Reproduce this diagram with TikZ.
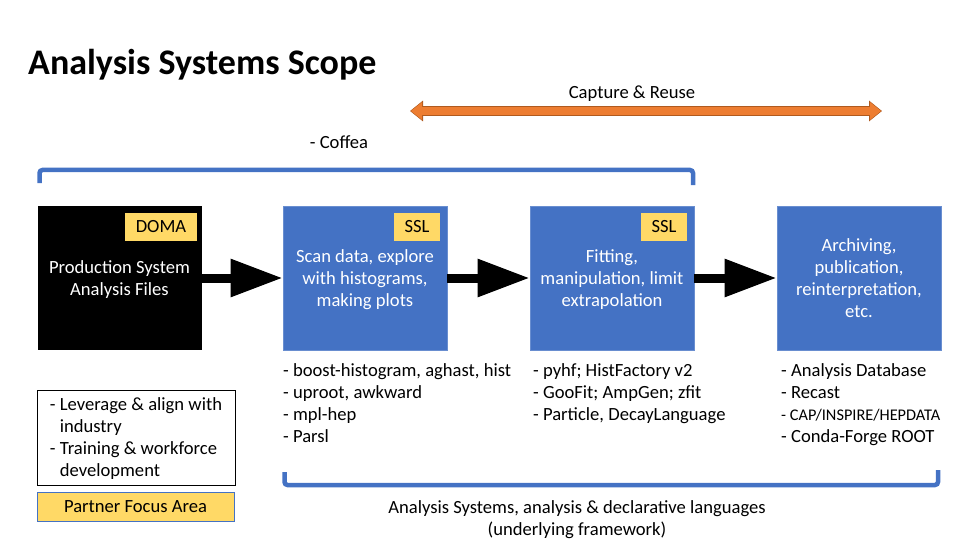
\documentclass[tikz,border=0pt]{standalone}
\usepackage{fontspec}
\setmainfont{Carlito}
\usetikzlibrary{arrows.meta}
\definecolor{boxblue}{HTML}{4472C4}
\definecolor{tagyellow}{HTML}{FFD966}
\definecolor{reuseorange}{HTML}{ED7D31}
\definecolor{reuseedge}{HTML}{B05A1E}
\newcommand{\txt}{\fontsize{18.6}{22}\selectfont}
\newcommand{\stagelines}[1]{\raisebox{-2.5pt}[\height][\depth]{\begin{tabular}{@{}c@{}}#1\end{tabular}}}
\begin{document}
\begin{tikzpicture}[x=1pt,y=-1pt,
  stage/.style={minimum width=164pt,minimum height=144pt,inner sep=0pt,align=center,text=white,font=\txt},
  bluestage/.style={stage,fill=boxblue,draw=boxblue!80!white,line width=0.8pt},
  tag/.style={fill=tagyellow,minimum height=28pt,inner sep=0pt,font=\txt},
  listing/.style={anchor=north west,align=left,inner sep=0pt,font=\txt},
  blockarrow/.style={line width=9pt,-{Triangle[length=52pt,width=36pt]}},
  bracket/.style={draw=boxblue,line width=4.5pt,rounded corners=3pt}]
\useasboundingbox (0,0) rectangle (960,540);
\node[anchor=base west,inner sep=0pt,font=\fontsize{36}{40}\selectfont\bfseries] (title) at (28,75) {Analysis Systems Scope};
\coordinate (reusel) at (410,111);
\coordinate (reuser) at (882,111);
\draw[reuseedge,line width=10.5pt,{Triangle[length=13pt,width=20pt]}-{Triangle[length=13pt,width=20pt]}] (reusel) -- (reuser);
\draw[reuseorange,line width=8pt,{Triangle[length=11pt,width=17pt]}-{Triangle[length=11pt,width=17pt]}] ([xshift=1pt]reusel) -- ([xshift=-1pt]reuser);
\node[font=\txt] (reuse) at (632,94) {Capture \& Reuse};
\node[font=\txt] (coffea) at (339,142) {- Coffea};
\draw[bracket] (39.5,183) -- (39.5,170) -- (693,170) -- (693,185);
\node[stage,fill=black] (prod) at (119.5,278) {\stagelines{Production System\\Analysis Files}};
\node[bluestage] (scan) at (365,278) {\stagelines{Scan data, explore\\with histograms,\\making plots}};
\node[bluestage] (fit) at (612,278) {\stagelines{Fitting,\\manipulation, limit\\extrapolation}};
\node[bluestage] (arch) at (859,278) {\stagelines{Archiving,\\publication,\\reinterpretation,\\etc.}};
\node[tag,minimum width=72pt] (doma) at (161,227) {DOMA};
\node[tag,minimum width=46pt] (sslscan) at (417,227) {SSL};
\node[tag,minimum width=46pt] (sslfit) at (664,227) {SSL};
\draw[blockarrow] (prod) -- (scan);
\draw[blockarrow] (scan) -- (fit);
\draw[blockarrow] (fit) -- (arch);
\node[listing] (scanlist) at (283,363) {- boost-histogram, aghast, hist\\- uproot, awkward\\- mpl-hep\\- Parsl};
\node[listing] (fitlist) at (533,363) {- pyhf; HistFactory v2\\- GooFit; AmpGen; zfit\\- Particle, DecayLanguage};
\node[listing] (archlist) at (781,363) {- Analysis Database\\- Recast\\{\fontsize{16.3}{22}\selectfont - CAP/INSPIRE/HEPDATA}\\- Conda-Forge ROOT};
\node[draw=black,line width=0.8pt,minimum width=198pt,minimum height=95pt,inner sep=0pt,align=left,font=\txt] (goals) at (136,437.5) {\raisebox{-2pt}[\height][\depth]{\begin{tabular}{@{}l@{}}- Leverage \& align with\\\hphantom{- }industry\\- Training \& workforce\\\hphantom{- }development\end{tabular}}};
\node[fill=tagyellow,draw=boxblue,line width=0.8pt,minimum width=197pt,minimum height=29pt,inner sep=0pt,font=\txt] (partner) at (135.5,506.5) {Partner Focus Area};
\draw[bracket] (284.5,472) -- (284.5,485) -- (938,485) -- (938,470);
\node[align=center,font=\txt] (framework) at (577,520) {Analysis Systems, analysis \& declarative languages\\(underlying framework)};
\end{tikzpicture}
\end{document}
